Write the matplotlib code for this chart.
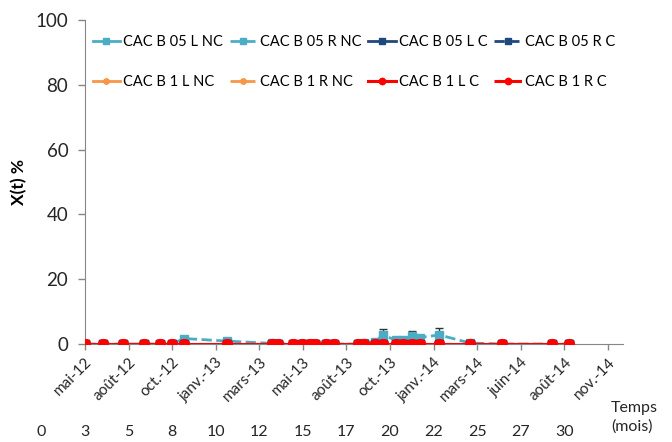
import matplotlib.pyplot as plt
from matplotlib.lines import Line2D
from matplotlib.transforms import blended_transform_factory

plt.rcParams['font.family'] = ['Lato', 'DejaVu Sans']

# sampling times (months since start)
mois = [0, 1.05, 2.2, 3.38, 4.3, 5.0, 5.68, 8.16, 10.71, 11.09, 11.95, 12.43,
        12.91, 13.2, 13.81, 14.29, 15.68, 16.0, 16.64, 17.08, 17.84, 18.26,
        18.74, 19.22, 20.33, 22.09, 23.91, 26.78, 27.79]

zeros = [0.0] * len(mois)

b05_L_NC = zeros
b05_R_NC = [0, 0, 0, 0, 0, 0, 1.7, 0.9, 0.2, 0, 0, 0,
            0, 0, 0, 0, 0, 0.2, 0.5, 2.9, 1.1, 1.2,
            2.6, 2.0, 2.8, 0.3, 0, 0, 0]
b05_R_NC_err = [0, 0, 0, 0, 0, 0, 0.8, 0.3, 0, 0, 0, 0,
                0, 0, 0, 0, 0, 0, 0, 1.6, 0, 0,
                1.4, 0.3, 2.0, 0, 0, 0, 0]
b05_L_C = zeros
b05_R_C = zeros
b1_L_NC = zeros
b1_R_NC = zeros
b1_L_C = zeros
b1_R_C = zeros

tick_pos = [0, 2.5, 5, 7.5, 10, 12.5, 15, 17.5, 20, 22.5, 25, 27.5, 30]
date_labels = ['mai-12', 'août-12', 'oct.-12', 'janv.-13', 'mars-13', 'mai-13',
               'août-13', 'oct.-13', 'janv.-14', 'mars-14', 'juin-14',
               'août-14', 'nov.-14']
# month numbers written under the axis (shifted one tick to the left in the original)
mois_pos = [-2.5, 0, 2.5, 5, 7.5, 10, 12.5, 15, 17.5, 20, 22.5, 25, 27.5]
mois_labels = ['0', '3', '5', '8', '10', '12', '15', '17', '20', '22', '25', '27', '30']

lblue = '#4BACC6'
dblue = '#1F497D'
orange = '#F79646'
red = '#FF0000'

fig = plt.figure(figsize=(6.72, 4.42), dpi=100)
ax = fig.add_axes([0.1265, 0.2217, 0.8006, 0.7331])

h = []
h.append(ax.plot(mois, b05_L_NC, '-', color=lblue, marker='s', ms=6, lw=2,
                 zorder=3, label='CAC B 05 L NC')[0])
ax.errorbar(mois, b05_R_NC, yerr=[zeros, b05_R_NC_err], fmt='--', color=lblue,
            marker='s', ms=6, lw=2, ecolor='#333333', elinewidth=1, capsize=3,
            zorder=2)
h.append(Line2D([], [], ls='--', color=lblue, marker='s', ms=6, lw=2))
h.append(ax.plot(mois, b05_L_C, '-', color=dblue, marker='s', ms=6, lw=2,
                 zorder=4, label='CAC B 05 L C')[0])
h.append(ax.plot(mois, b05_R_C, '--', color=dblue, marker='s', ms=6, lw=2,
                 zorder=4, label='CAC B 05 R C')[0])
h.append(ax.plot(mois, b1_L_NC, '-', color=orange, marker='o', ms=6, lw=2,
                 zorder=5, label='CAC B 1 L NC')[0])
h.append(ax.plot(mois, b1_R_NC, '--', color=orange, marker='o', ms=6, lw=2,
                 zorder=5, label='CAC B 1 R NC')[0])
h.append(ax.plot(mois, b1_L_C, '-', color=red, marker='o', ms=7, lw=2.2,
                 zorder=6, label='CAC B 1 L C')[0])
h.append(ax.plot(mois, b1_R_C, '--', color=red, marker='o', ms=7, lw=2.2,
                 zorder=6, label='CAC B 1 R C')[0])

ax.set_xlim(0, 30.87)
ax.set_ylim(0, 100)
ax.set_yticks([0, 20, 40, 60, 80, 100])
ax.set_xticks(tick_pos)
ax.set_xticklabels(date_labels, rotation=45, ha='right', rotation_mode='anchor',
                   fontsize=11, color='#262626')
ax.tick_params(axis='y', labelsize=13.5, colors='#262626', length=5, width=1,
               color='#868686', pad=7)
ax.tick_params(axis='x', length=4, width=1, color='#868686', pad=4)
for s in ['top', 'right']:
    ax.spines[s].set_visible(False)
for s in ['left', 'bottom']:
    ax.spines[s].set_color('#868686')
ax.set_ylabel('X(t) %', fontsize=12.5, fontweight='bold', labelpad=6)

trans = blended_transform_factory(ax.transData, fig.transFigure)
for p, t in zip(mois_pos, mois_labels):
    ax.text(p, 0.022, t, transform=trans, ha='center', va='center',
            fontsize=11.5, color='#262626', clip_on=False)
fig.text(0.909, 0.055, 'Temps\n(mois)', ha='left', va='center',
         fontsize=11.5, color='#262626', linespacing=1.4)

# matplotlib fills legend column by column -> reorder to get row order
order = [0, 4, 1, 5, 2, 6, 3, 7]
labels = ['CAC B 05 L NC', 'CAC B 05 R NC', 'CAC B 05 L C', 'CAC B 05 R C',
          'CAC B 1 L NC', 'CAC B 1 R NC', 'CAC B 1 L C', 'CAC B 1 R C']
ax.legend([h[i] for i in order], [labels[i] for i in order], ncol=4,
          loc='upper left', bbox_to_anchor=(-0.005, 0.985), frameon=False,
          fontsize=10.5, handlelength=1.9, handletextpad=0.2, columnspacing=0.45,
          labelspacing=1.8, borderaxespad=0.3, markerscale=0.65)

fig.savefig('out.png', dpi=100)
